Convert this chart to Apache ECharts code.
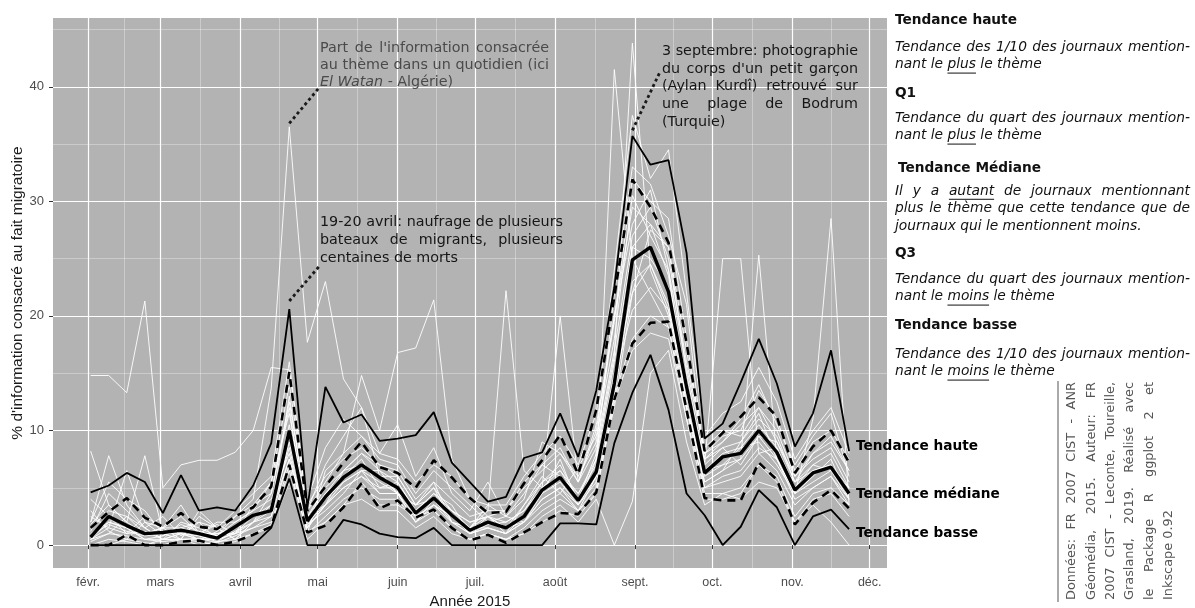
<!DOCTYPE html>
<html><head><meta charset="utf-8">
<script src="https://cdn.jsdelivr.net/npm/echarts@6/dist/echarts.min.js"></script>
<style>html,body{margin:0;padding:0;background:#fff}#c{width:1195px;height:608px}</style>
</head><body><div id="c"></div><script>
// ---------- DATA ----------
const firstWeekDay = 33;           // Monday 2 Feb 2015 (day of year)
const weekCount = 43;
const monthStarts = [32, 60, 91, 121, 152, 182, 213, 244, 274, 305, 335];
const monthLabels = ['févr.', 'mars', 'avril', 'mai', 'juin', 'juil.', 'août', 'sept.', 'oct.', 'nov.', 'déc.'];
const yTicks = [0, 10, 20, 30, 40];
const yMinorTicks = [5, 15, 25, 35, 45];

const haute = [4.6,5.2,6.3,5.5,2.8,6.1,3.0,3.3,3.0,5.2, 8.9,20.6,3.3,13.8,10.7,11.4,9.1,9.3,9.6,11.6, 7.2,5.5,3.8,4.2,7.6,8.1,11.5,7.7,13.5,22.5, 35.7,33.2,33.6,25.5,9.3,10.6,14.2,18.0,14.1,8.6, 11.5,17.0,8.2];
const q1 = [1.5,2.9,4.1,2.4,1.6,2.8,1.6,1.4,2.5,3.3, 5.1,15.1,3.0,5.1,7.2,9.0,6.8,6.3,5.0,7.4, 5.9,4.1,2.8,2.9,5.4,7.4,9.6,6.2,11.8,21.7, 31.9,29.5,26.4,17.6,8.2,9.8,11.2,12.9,11.2,6.3, 8.6,10.0,7.2];
const mediane = [0.7,2.5,1.7,1.0,1.1,1.3,1.0,0.6,1.6,2.6, 3.0,10.0,2.1,4.2,5.9,7.0,5.9,5.0,2.8,4.1, 2.6,1.3,2.0,1.5,2.5,4.8,5.9,3.9,6.4,14.1, 24.9,26.0,22.1,13.8,6.3,7.7,8.0,10.0,8.1,4.8, 6.3,6.8,4.5];
const q3 = [0,0,0.9,0,0,0.3,0.4,0,0.3,0.9, 1.6,7.0,1.1,1.7,3.3,5.4,3.2,3.9,2.4,3.1, 1.5,0.4,0.9,0.2,1.1,2.0,2.8,2.7,4.6,12.7, 17.6,19.4,19.5,11.8,4.1,3.9,3.9,7.2,5.7,1.8, 3.7,4.8,3.2];
const basse = [0,0,0,0,0,0,0,0,0,0, 1.5,5.8,0,0,2.2,1.8,1.0,0.7,0.6,1.5, 0,0,0,0,0,0,1.9,1.9,1.8,8.9, 13.3,16.6,11.8,4.5,2.6,0,1.6,4.8,3.3,0, 2.5,3.1,1.4];

// individual newspapers (white lines)
const w01 = [3.0,1.2,0.5,2.0,0.8,1.5,0.4,1.2,2.5,4.0, 13.7,36.5,17.7,23.0,14.5,12.0,6.0,4.5,3.5,5.0, 3.0,2.0,2.5,1.0,3.5,6.0,4.5,6.8,9.5,18.0, 30.5,27.0,24.0,12.0,5.5,6.5,9.0,11.5,7.5,5.5, 7.0,8.0,5.0];
const w02 = [14.8,14.8,13.3,21.3,5.0,7.0,7.4,7.4,8.1,10.0, 15.5,15.3,4.0,8.5,11.0,9.5,8.0,10.5,6.0,8.5, 4.5,3.0,5.5,2.5,4.0,9.0,8.0,5.5,10.0,20.0, 28.0,31.0,24.0,15.5,8.0,9.0,11.0,14.0,10.5,7.0, 9.5,11.5,6.0];
const w03 = [8.2,3.5,2.0,7.8,1.0,0.5,3.0,1.5,0.5,2.0, 4.5,12.0,1.0,6.5,8.0,14.8,10.0,16.8,17.2,21.4, 7.5,4.0,2.5,3.0,5.5,7.0,6.0,4.5,7.5,16.0, 26.0,28.0,23.5,14.0,7.5,8.5,7.0,9.5,9.0,6.0, 7.5,8.5,5.5];
const w04 = [2.0,7.8,3.5,1.5,2.5,0.8,2.0,0.5,1.0,3.5, 5.5,11.5,2.5,3.5,6.5,8.0,7.0,6.0,3.5,5.5, 2.0,1.5,3.0,22.2,6.5,5.0,20.0,5.5,8.5,17.0, 27.0,29.5,25.0,16.0,8.5,10.0,9.5,12.0,9.0,5.5, 8.0,9.0,6.5];
const w05 = [1.0,2.0,1.5,0.5,0.8,1.8,1.2,0.8,2.0,3.0, 4.0,8.0,1.5,4.5,6.0,7.5,5.0,5.5,3.0,4.5, 3.5,1.0,1.8,2.0,3.0,5.5,7.0,4.0,8.0,16.5, 43.8,24.0,20.0,12.0,6.5,7.0,8.5,9.0,7.0,4.5, 6.0,7.5,4.0];
const w06 = [0.5,1.5,1.0,1.2,0.5,1.0,0.8,0.3,1.2,2.0, 2.5,9.0,2.0,3.5,5.5,6.5,5.5,4.5,2.5,3.5, 2.5,1.5,1.5,1.0,2.0,4.0,5.0,3.0,6.0,41.5, 25.0,22.0,19.0,11.0,5.0,6.0,6.5,8.5,7.5,4.0, 5.0,6.0,3.5];
const w07 = [1.5,3.0,2.5,1.0,1.5,1.5,1.0,1.0,1.5,2.5, 3.5,9.5,2.5,5.0,6.5,8.0,6.5,5.5,3.0,4.5, 3.0,1.5,2.5,2.0,3.0,5.0,6.5,4.5,7.0,15.0, 22.0,27.5,26.0,15.0,7.0,25.0,25.0,8.0,8.5,5.0, 6.5,7.0,5.0];
const w08 = [0.8,1.8,1.2,0.8,1.0,1.0,0.5,0.5,1.0,2.0, 3.0,7.5,1.5,3.5,5.0,6.0,4.5,4.5,2.0,3.5, 2.0,1.0,1.5,1.0,2.0,4.0,5.0,3.5,5.5,12.0, 22.0,24.5,20.5,12.5,5.5,6.5,7.5,25.3,7.5,4.5, 11.0,28.5,3.5];
const w09 = [0.0,0.5,0.3,0.0,0.5,0.5,0.0,0.3,0.5,1.0, 1.5,5.5,0.5,2.0,3.5,4.0,3.0,3.0,1.5,2.5, 1.0,0.5,1.0,0.5,1.0,2.5,3.5,2.0,4.0,0.0, 3.8,15.0,17.0,9.0,3.5,4.5,4.0,5.5,5.0,2.0, 4.0,4.5,2.5];
const w10 = [1.2,4.5,3.0,1.5,0.5,2.0,1.5,0.8,2.5,3.5, 4.5,12.5,3.0,5.5,8.0,9.5,7.5,7.0,4.5,6.5, 5.0,3.5,2.0,2.5,4.5,7.0,8.5,5.5,10.5,19.5, 32.0,30.0,28.5,18.0,7.5,9.0,10.5,12.0,10.0,6.0, 8.0,9.5,6.5];
const w11 = [0.3,1.0,0.8,0.5,0.3,0.5,0.6,0.2,0.8,1.5, 2.0,7.0,1.0,2.5,4.0,5.0,4.0,4.0,2.0,3.0, 1.5,0.5,1.0,0.5,1.5,3.0,4.0,3.0,4.5,13.0, 18.0,20.0,19.0,12.0,4.5,4.5,5.0,7.0,6.0,2.5, 4.5,5.0,3.5];
const w12 = [2.5,1.5,6.5,2.0,1.5,0.5,2.5,1.5,0.5,2.0, 3.5,10.5,2.0,4.0,5.5,6.5,6.5,4.5,3.5,4.0, 3.0,2.0,2.5,1.5,3.5,5.5,6.5,4.0,6.5,14.0, 26.0,25.0,22.5,14.5,6.5,8.0,8.5,10.5,8.5,5.0, 7.0,6.5,5.0];
const w13 = [1.8,3.5,2.0,1.0,1.5,3.5,1.0,1.8,1.0,2.5, 3.0,13.0,2.5,4.5,6.5,7.0,6.0,6.0,3.5,5.0, 2.0,1.5,3.5,2.5,2.0,4.5,7.5,3.5,7.5,22.0, 33.0,31.5,27.0,21.0,7.0,8.5,9.0,11.0,9.5,5.5, 6.5,7.0,4.5];
const w14 = [0.5,2.0,1.5,0.5,0.5,1.0,0.5,0.5,1.5,2.5, 3.0,8.5,1.5,3.5,5.0,6.0,5.0,5.0,2.5,3.5, 2.5,1.0,1.5,1.0,2.5,4.5,5.5,3.5,6.0,13.0, 23.0,24.5,21.0,13.0,6.0,7.0,7.5,9.5,7.5,4.5, 5.5,6.5,4.0];
const w15 = [0.0,0.0,0.5,0.2,0.0,0.5,0.3,0.0,0.3,1.0, 1.8,6.5,1.2,2.0,3.5,5.5,3.5,3.5,2.5,3.0, 1.5,0.5,1.0,0.5,1.0,2.0,3.0,2.5,4.5,12.5, 17.0,18.5,18.0,11.0,4.0,4.0,4.5,7.0,5.5,2.0, 3.5,2.0,0.0];
const w16 = [4.0,2.5,1.0,2.5,1.5,2.5,1.0,2.0,2.0,3.0, 5.5,14.0,3.5,6.0,7.5,8.5,7.0,6.5,4.0,5.5, 4.0,2.5,3.0,3.0,5.0,6.5,8.0,6.0,9.0,20.0, 29.5,28.0,26.0,17.0,8.0,9.5,10.0,13.5,11.0,6.5, 9.0,10.0,7.5];
const w17 = [2.0,5.5,4.0,3.0,1.0,1.5,2.0,1.5,3.0,4.5, 6.0,16.0,3.0,7.0,9.5,12.0,8.0,7.5,5.5,7.0, 6.0,4.0,3.5,3.5,6.0,8.0,9.5,7.0,11.5,24.0, 37.5,32.0,34.5,22.0,9.5,11.5,12.5,15.5,12.5,7.5, 10.0,12.0,8.0];
const w18 = [0.5,1.0,2.5,1.5,0.5,0.5,0.5,1.0,1.0,1.5, 2.5,7.5,1.8,3.0,4.5,6.5,4.5,4.5,2.0,4.0, 2.0,1.0,2.5,1.5,2.0,3.5,4.5,3.0,5.0,14.5, 20.5,22.5,20.5,13.5,5.0,5.5,6.0,8.0,6.5,3.5, 5.0,6.0,4.0];
const journaux = [w01,w02,w03,w04,w05,w06,w07,w08,w09,w10,w11,w12,w13,w14,w15,w16,w17,w18];

// annotation leader lines [dayFrom, valueFrom, dayTo, valueTo]
const leaders = [[110, 36.8, 121.5, 39.9], [110, 21.3, 121.5, 24.3], [243, 36.2, 253.7, 41.3]];

// ---------- BUILD ----------
const weekDays = Array.from({length: weekCount}, (_, i) => firstWeekDay + 7 * i);
const pairs = vals => vals.map((v, i) => [weekDays[i], v]);
const dayToLabel = {}; monthStarts.forEach((d, i) => dayToLabel[d] = monthLabels[i]);
const xMinor = monthStarts.slice(0, -1).map((d, i) => (d + monthStarts[i + 1]) / 2);
const AX = 'Liberation Sans, Arial, sans-serif';
const DJ = 'DejaVu Sans';

const mctx = document.createElement('canvas').getContext('2d');
function fontStr(size, weight, style, family) { return `${style} ${weight} ${size}px "${family}"`; }
function measure(t, f) { mctx.font = f; return mctx.measureText(t).width; }
function fit(text, weight, style, target) { return 20 * target / measure(text, fontStr(20, weight, style, DJ)); }

function para(lines, o) {
  const els = [];
  lines.forEach((line, li) => {
    const toks = line.split(' ').map(w => {
      let it = false, ul = false;
      while (/^[*_]/.test(w)) { if (w[0] === '*') it = true; else ul = true; w = w.slice(1); }
      return {w, it, ul};
    });
    const st = t => (t.it || o.style === 'italic') ? 'italic' : 'normal';
    const widths = toks.map(t => measure(t.w, fontStr(o.size, o.weight || 'normal', st(t), DJ)));
    const sum = widths.reduce((a, b) => a + b, 0);
    const sp = measure(' ', fontStr(o.size, o.weight || 'normal', o.style || 'normal', DJ));
    const just = o.width && li < lines.length - 1 && toks.length > 1;
    const gap = just ? Math.max(sp * 0.6, (o.width - sum) / (toks.length - 1)) : sp;
    let pos = 0;
    toks.forEach((t, k) => {
      const px = o.rotate ? o.x + li * o.lh : o.x + pos;
      const py = o.rotate ? o.y - pos : o.y + li * o.lh;
      els.push({type: 'text', x: px, y: py, rotation: o.rotate ? Math.PI / 2 : 0, z: 100, silent: true,
        style: {text: t.w, fill: o.color, fontSize: o.size, fontFamily: DJ, fontWeight: o.weight || 'normal',
          fontStyle: st(t), align: 'left', verticalAlign: 'middle'}});
      if (t.ul) els.push({type: 'line', z: 100, silent: true,
        shape: {x1: o.x + pos, y1: py + o.size * 0.6, x2: o.x + pos + widths[k], y2: py + o.size * 0.6},
        style: {stroke: o.color, lineWidth: 1}});
      pos += widths[k] + gap;
    });
  });
  return els;
}

const annSize = 14.3;
const itSize = Math.min(14.5, Math.max(12, fit('Tendance des 1/10 des journaux mention-', 'normal', 'italic', 291)));
const bdSize = Math.min(15, Math.max(12, fit('Tendance haute', 'bold', 'normal', 122)));
const crSize = Math.min(14, Math.max(11, fit('Inkscape 0.92', 'normal', 'normal', 90)));

let gfx = [];
gfx = gfx.concat(para(["Part de l'information consacrée", 'au thème dans un quotidien (ici', '*El *Watan - Algérie)'],
  {x: 320, y: 48, lh: 17.3, width: 229, size: annSize, color: '#4a4a4a'}));
gfx = gfx.concat(para(['19-20 avril: naufrage de plusieurs', 'bateaux de migrants, plusieurs', 'centaines de morts'],
  {x: 320, y: 222, lh: 18, width: 243, size: annSize, color: '#161616'}));
gfx = gfx.concat(para(['3 septembre: photographie', "du corps d'un petit garçon", '(Aylan Kurdî) retrouvé sur', 'une plage de Bodrum', '(Turquie)'],
  {x: 662, y: 51, lh: 17.8, width: 196, size: annSize, color: '#161616'}));

const heads = [['Tendance haute', 895, 20], ['Q1', 895, 93], ['Tendance Médiane', 898, 168], ['Q3', 895, 253], ['Tendance basse', 895, 325]];
heads.forEach(h => gfx = gfx.concat(para([h[0]], {x: h[1], y: h[2], lh: 18, size: bdSize, weight: 'bold', color: '#111'})));
const rb = {x: 895, lh: 17.8, width: 295, size: itSize, style: 'italic', color: '#111'};
gfx = gfx.concat(para(['Tendance des 1/10 des journaux mention-', 'nant le _plus le thème'], Object.assign({}, rb, {y: 47})));
gfx = gfx.concat(para(['Tendance du quart des journaux mention-', 'nant le _plus le thème'], Object.assign({}, rb, {y: 118})));
gfx = gfx.concat(para(['Il y a _autant de journaux mentionnant', 'plus le thème que cette tendance que de', 'journaux qui le mentionnent moins.'], Object.assign({}, rb, {y: 191})));
gfx = gfx.concat(para(['Tendance du quart des journaux mention-', 'nant le _moins le thème'], Object.assign({}, rb, {y: 279})));
gfx = gfx.concat(para(['Tendance des 1/10 des journaux mention-', 'nant le _moins le thème'], Object.assign({}, rb, {y: 354})));
gfx = gfx.concat(para(['Données: FR 2007 CIST - ANR', 'Géomédia, 2015. Auteur: FR', '2007 CIST - Leconte, Toureille,', 'Grasland, 2019. Réalisé avec', 'le Package R ggplot 2 et', 'Inkscape 0.92'],
  {x: 1072, y: 600, lh: 19.3, width: 218, size: crSize, color: '#555', rotate: true}));
gfx.push({type: 'line', z: 100, silent: true, shape: {x1: 1058, y1: 381, x2: 1058, y2: 602}, style: {stroke: '#555', lineWidth: 1}});

const series = [];
journaux.forEach((w, i) => series.push({
  name: 'j' + (i + 1), type: 'line', data: pairs(w), symbol: 'none', silent: true, z: 2,
  lineStyle: {color: '#ffffff', width: 1, opacity: 0.9}
}));
const endLab = (txt, off) => ({show: true, formatter: txt, distance: 7, offset: off, color: '#000',
  fontSize: bdSize, fontWeight: 'bold', fontFamily: DJ});
series.push({name: 'basse', type: 'line', data: pairs(basse), symbol: 'none', silent: true, z: 5,
  lineStyle: {color: '#000', width: 1.8}, endLabel: endLab('Tendance basse', [0, 4])});
series.push({name: 'q3', type: 'line', data: pairs(q3), symbol: 'none', silent: true, z: 5,
  lineStyle: {color: '#000', width: 2.6, type: [8, 6]}});
series.push({name: 'q1', type: 'line', data: pairs(q1), symbol: 'none', silent: true, z: 5,
  lineStyle: {color: '#000', width: 2.6, type: [8, 6]}});
series.push({name: 'mediane', type: 'line', data: pairs(mediane), symbol: 'none', silent: true, z: 6,
  lineStyle: {color: '#000', width: 3.4}, endLabel: endLab('Tendance médiane', [0, 1])});
series.push({name: 'haute', type: 'line', data: pairs(haute), symbol: 'none', silent: true, z: 5,
  lineStyle: {color: '#000', width: 1.8}, endLabel: endLab('Tendance haute', [0, -5]),
  markLine: {silent: true, symbol: ['none', 'none'], label: {show: false}, animation: false,
    lineStyle: {color: '#1a1a1a', type: [3, 3], width: 2.8},
    data: leaders.map(l => [{coord: [l[0], l[1]]}, {coord: [l[2], l[3]]}])}});

const chart = echarts.init(document.getElementById('c'), null, {renderer: 'canvas'});
chart.setOption({
  animation: false,
  backgroundColor: '#ffffff',
  grid: {left: 53, right: 308, top: 18, bottom: 40, show: true, backgroundColor: '#b3b3b3', borderWidth: 0,
    containLabel: false, outerBoundsMode: 'none'},
  xAxis: [
    {type: 'value', min: 18.4, max: 341.7,
      axisLine: {show: false},
      axisTick: {show: true, length: 4, lineStyle: {color: '#333', width: 1}, customValues: monthStarts},
      axisLabel: {customValues: monthStarts, formatter: v => dayToLabel[v] || '', color: '#4d4d4d', fontSize: 12.5, fontFamily: AX, margin: 8},
      splitLine: {show: true, lineStyle: {color: '#ffffff', width: 1.2}},
      name: 'Année 2015', nameLocation: 'middle', nameGap: 26, nameMoveOverlap: false,
      nameTextStyle: {color: '#1a1a1a', fontSize: 15, fontFamily: AX}},
    {type: 'value', min: 18.4, max: 341.7,
      axisLine: {show: false}, axisTick: {show: false, customValues: xMinor},
      axisLabel: {show: false, customValues: xMinor},
      splitLine: {show: true, lineStyle: {color: 'rgba(255,255,255,0.55)', width: 0.6}}}
  ],
  yAxis: [
    {type: 'value', min: -2, max: 46,
      axisLine: {show: false},
      axisTick: {show: true, length: 4, lineStyle: {color: '#333', width: 1}, customValues: yTicks},
      axisLabel: {customValues: yTicks, color: '#4d4d4d', fontSize: 13, fontFamily: AX, margin: 9},
      splitLine: {show: true, lineStyle: {color: '#ffffff', width: 1.2}},
      name: "% d'information consacré au fait migratoire", nameLocation: 'middle', nameGap: 27, nameMoveOverlap: false,
      nameTextStyle: {color: '#1a1a1a', fontSize: 15.5, fontFamily: AX}},
    {type: 'value', min: -2, max: 46,
      axisLine: {show: false}, axisTick: {show: false, customValues: yMinorTicks},
      axisLabel: {show: false, customValues: yMinorTicks},
      splitLine: {show: true, lineStyle: {color: 'rgba(255,255,255,0.55)', width: 0.6}}}
  ],
  series: series,
  graphic: {elements: gfx}
});
</script></body></html>
